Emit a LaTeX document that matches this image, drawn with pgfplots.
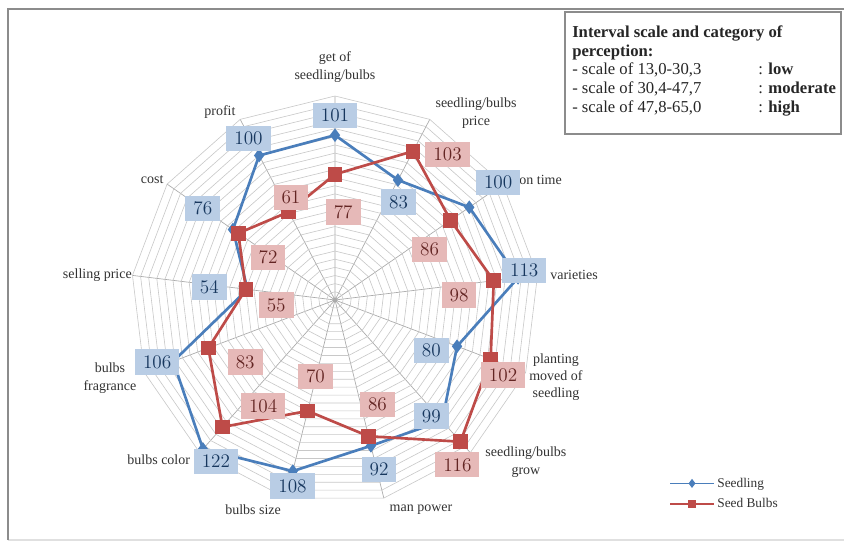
\documentclass[border=0pt]{standalone}
\usepackage{fontspec}
\setmainfont{Liberation Serif}
\newfontfamily\calibri{Carlito}
\usepackage{pgfplots}
\usepackage{pgfplotstable}
\usepgfplotslibrary{polar}
\pgfplotsset{compat=1.18}

\definecolor{sdl}{RGB}{74,126,187}
\definecolor{blb}{RGB}{190,75,72}
\definecolor{sdlbox}{RGB}{185,205,229}
\definecolor{blbbox}{RGB}{230,185,184}
\definecolor{sdltxt}{RGB}{23,55,94}
\definecolor{blbtxt}{RGB}{99,37,35}
\definecolor{ring}{RGB}{200,200,200}
\definecolor{spoke}{RGB}{170,170,170}
\definecolor{framec}{RGB}{140,140,140}

% i = category (0 at top, clockwise); sx/sy, bx/by = where the data labels sit
\pgfplotstableread{
i seedling bulbs sx sy bx by
0 101 77 0 113 5 54
1 83 103 39 60 69 89
2 100 86 100 72 58 31
3 113 98 116 18 76 3
4 80 102 59 -31 103 -46
5 99 116 59 -71 75 -101
6 92 86 27 -104 26 -64
7 108 70 -26 -114 -12 -47
8 122 104 -73 -99 -44 -65
9 106 83 -109 -38 -55 -38
10 54 55 -77 8 -36 -3
11 76 72 -81 56 -41 26
12 100 61 -53 99 -27 63
}\perception

% category names and where they sit
\pgfplotstableread[col sep=comma]{
cx,cy,name
0,142.8,{get of\\seedling/bulbs}
86.4,114.6,{seedling/bulbs\\price}
126,73.5,{on time}
146.5,15.3,{varieties}
135.4,-47.2,{planting\\moved of\\seedling}
117,-99.3,{seedling/bulbs\\grow}
52.7,-128.7,{man power}
-50.2,-128.7,{bulbs size}
-108,-98,{bulbs color}
-137.9,-47.8,{bulbs\\fragrance}
-145.6,15.3,{selling price}
-112,73.5,{cost}
-70.5,115.2,{profit}
}\catlabels

% one grid ring (13 corners, closed)
\pgfplotstableread{
i r
0 1
1 1
2 1
3 1
4 1
5 1
6 1
7 1
8 1
9 1
10 1
11 1
12 1
13 1
}\ringidx

\begin{document}
\begin{tikzpicture}
\useasboundingbox (-251.25pt,-185.25pt) rectangle (381.75pt,225pt);
\fill[white] (-251.25pt,-185.25pt) rectangle (381.75pt,225pt);
\draw[black!12, line width=0.8pt] (-245.25pt,-180pt) -- (381.75pt,-180pt);
\draw[framec, line width=1.5pt] (-245.25pt,-180pt) -- (-245.25pt,218.25pt) -- (381.75pt,218.25pt);

\begin{polaraxis}[
  at={(0pt,0pt)}, anchor=center,
  scale only axis, width=306pt, height=306pt,
  ymin=0, ymax=125,
  xtick={90,62.3077,34.6154,6.9231,339.2308,311.5385,283.8462,256.1538,228.4615,200.7692,173.0769,145.3846,117.6923},
  xticklabels={},
  ytick=\empty,
  xmajorgrids,
  major grid style={spoke, line width=0.5pt},
  axis line style={draw=none},
  major tick length=0pt,
  clip=false,
  legend style={at={(axis description cs:1.309,0.078)}, anchor=north west, draw=none, fill=none,
    font=\fontsize{10}{12}\selectfont, row sep=3pt, text=black!80},
  legend cell align=left,
  legend image code/.code={\draw[mark repeat=2,mark phase=2,#1,line width=1pt,mark size=2.6pt] plot coordinates {(0cm,0cm) (0.58cm,0cm) (1.16cm,0cm)};},
]
\pgfplotsinvokeforeach{5,10,...,125}{
  \addplot[ring, line width=0.45pt, forget plot] table[x expr={90-\thisrow{i}*360/13}, y expr={#1*\thisrow{r}}] \ringidx;
}

\addplot[sdl, line width=2pt, mark=diamond*, mark size=3.5pt, mark options={solid}]
  table[x expr={90-\thisrow{i}*360/13}, y=seedling] \perception --cycle;
\addlegendentry{Seedling}
\addplot[blb, line width=2pt, mark=square*, mark size=4.5pt, mark options={solid}]
  table[x expr={90-\thisrow{i}*360/13}, y=bulbs] \perception --cycle;
\addlegendentry{Seed Bulbs}

\addplot[draw=none, forget plot, data cs=cart, nodes near coords, point meta=explicit symbolic,
  every node near coord/.append style={font=\fontsize{10.5}{13}\selectfont, text=black!80,
    anchor=center, align=center, inner sep=0pt}]
  table[x=cx, y=cy, meta=name] \catlabels;

\addplot[draw=none, forget plot, data cs=cart, nodes near coords, point meta=explicit,
  every node near coord/.append style={font=\calibri\fontsize{14.5}{16}\selectfont, fill=sdlbox, text=sdltxt,
    anchor=center, inner xsep=6pt, inner ysep=1pt, minimum height=19pt}]
  table[x=sx, y=sy, meta=seedling] \perception;
\addplot[draw=none, forget plot, data cs=cart, nodes near coords, point meta=explicit,
  every node near coord/.append style={font=\calibri\fontsize{14.5}{16}\selectfont, fill=blbbox, text=blbtxt,
    anchor=center, inner xsep=6pt, inner ysep=1pt, minimum height=19pt}]
  table[x=bx, y=by, meta=bulbs] \perception;
\end{polaraxis}

\draw[framec, line width=0.8pt] (172.5pt,124.5pt) rectangle (379.5pt,216pt);
\node[anchor=north west, align=left, inner sep=0pt, font=\fontsize{12.5}{14}\selectfont, text=black!85]
  at (177.75pt,206pt) {%
  \textbf{Interval scale and category of}\\
  \textbf{perception:}\\
  \makebox[139.5pt][l]{- scale of 13,0-30,3}: \textbf{low}\\
  \makebox[139.5pt][l]{- scale of 30,4-47,7}: \textbf{moderate}\\
  \makebox[139.5pt][l]{- scale of 47,8-65,0}: \textbf{high}};
\end{tikzpicture}
\end{document}
